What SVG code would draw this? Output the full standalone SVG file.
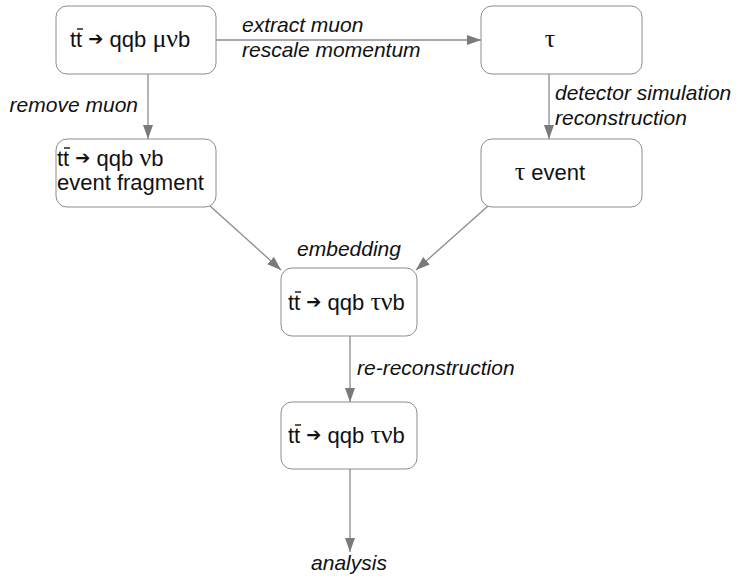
<svg xmlns="http://www.w3.org/2000/svg" width="738" height="584" viewBox="0 0 738 584">
  <style>
    .box { fill: #ffffff; stroke: #8c8c8c; stroke-width: 1; }
    .node { font-family: "Liberation Sans", Arial, sans-serif; font-size: 22px; fill: #111111; }
    .lbl { font-family: "Liberation Sans", Arial, sans-serif; font-size: 21px; font-style: italic; fill: #111111; }
    .gr { font-family: "Liberation Serif", "DejaVu Serif", serif; font-size: 26px; }
    .arr { font-family: "DejaVu Sans", sans-serif; font-size: 18px; }
    .bar { stroke: #111111; stroke-width: 1.4; }
    .edge { stroke: #8c8c8c; stroke-width: 1.3; fill: none; marker-end: url(#head); }
  </style>
  <defs>
    <marker id="head" viewBox="0 0 14 10" refX="14" refY="5" markerWidth="14" markerHeight="10" markerUnits="userSpaceOnUse" orient="auto">
      <path d="M0,0 L14,5 L0,10 z" fill="#7a7a7a"/>
    </marker>
  </defs>
  <rect width="738" height="584" fill="#ffffff"/>

  <g id="connectors">
    <line class="edge" x1="216" y1="40" x2="481" y2="40"/>
    <line class="edge" x1="148" y1="74" x2="148" y2="139"/>
    <line class="edge" x1="549" y1="74" x2="549" y2="139"/>
    <line class="edge" x1="210" y1="206" x2="281" y2="270"/>
    <line class="edge" x1="488" y1="206" x2="416" y2="270"/>
    <line class="edge" x1="350" y1="336" x2="350" y2="402"/>
    <line class="edge" x1="350" y1="469" x2="350" y2="552"/>
    <text class="lbl" x="242" y="32">extract muon</text>
    <text class="lbl" x="242" y="57">rescale momentum</text>
    <text class="lbl" x="138" y="112" text-anchor="end">remove muon</text>
    <text class="lbl" x="555" y="100">detector simulation</text>
    <text class="lbl" x="555" y="125">reconstruction</text>
    <text class="lbl" x="349" y="256" text-anchor="middle">embedding</text>
    <text class="lbl" x="357" y="375">re-reconstruction</text>
    <text class="lbl" x="349" y="570" text-anchor="middle">analysis</text>
  </g>

  <g id="n-ttbar-mu">
    <rect class="box" x="56" y="6" width="160" height="68" rx="11"/>
    <text class="node" x="70" y="47">tt <tspan class="arr" dy="-2">➔</tspan><tspan dy="2"> qqb </tspan><tspan class="gr">μν</tspan>b</text>
    <line class="bar" x1="77" y1="29" x2="83" y2="29"/>
  </g>

  <g id="n-tau">
    <rect class="box" x="481" y="6" width="161" height="68" rx="11"/>
    <text class="node" x="550" y="47" text-anchor="middle"><tspan class="gr">τ</tspan></text>
  </g>

  <g id="n-fragment">
    <rect class="box" x="56" y="139" width="160" height="68" rx="11"/>
    <text class="node" x="57" y="166">tt <tspan class="arr" dy="-2">➔</tspan><tspan dy="2"> qqb </tspan><tspan class="gr">ν</tspan>b</text>
    <line class="bar" x1="64" y1="148" x2="70" y2="148"/>
    <text class="node" x="57" y="190">event fragment</text>
  </g>

  <g id="n-tau-event">
    <rect class="box" x="481" y="139" width="161" height="68" rx="11"/>
    <text class="node" x="550" y="180" text-anchor="middle"><tspan class="gr">τ</tspan> event</text>
  </g>

  <g id="n-embedded">
    <rect class="box" x="281" y="268" width="136" height="68" rx="11"/>
    <text class="node" x="288" y="310">tt <tspan class="arr" dy="-2">➔</tspan><tspan dy="2"> qqb </tspan><tspan class="gr">τν</tspan>b</text>
    <line class="bar" x1="295" y1="292" x2="301" y2="292"/>
  </g>

  <g id="n-rereco">
    <rect class="box" x="281" y="402" width="136" height="67" rx="11"/>
    <text class="node" x="288" y="443">tt <tspan class="arr" dy="-2">➔</tspan><tspan dy="2"> qqb </tspan><tspan class="gr">τν</tspan>b</text>
    <line class="bar" x1="295" y1="425" x2="301" y2="425"/>
  </g>
</svg>
